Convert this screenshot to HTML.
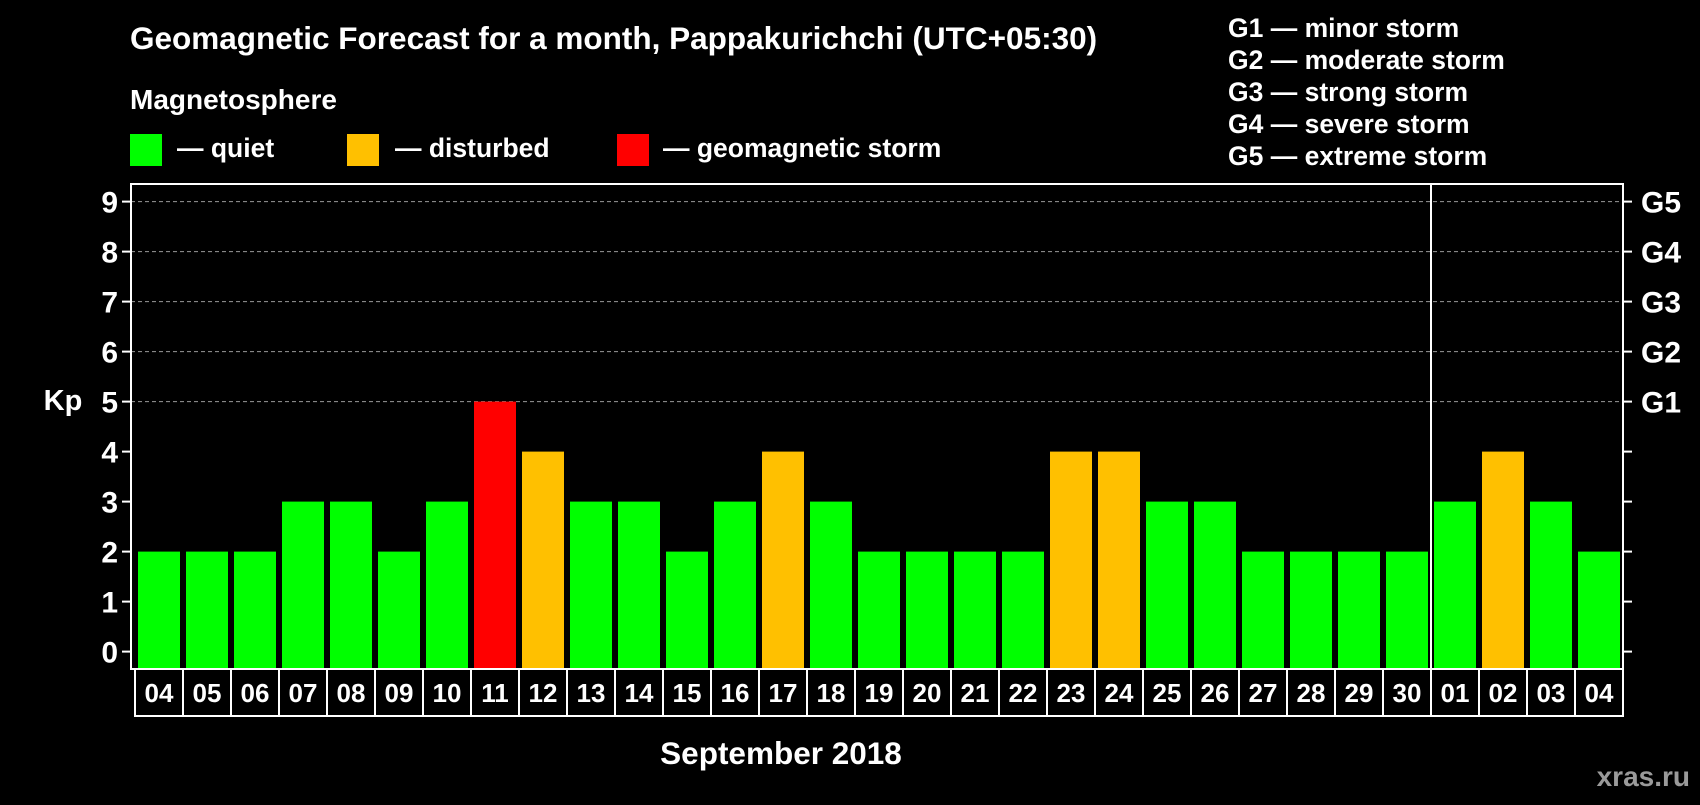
<!DOCTYPE html>
<html><head><meta charset="utf-8"><style>
html,body{margin:0;padding:0;background:#000;}
svg text{font-family:"Liberation Sans",sans-serif;font-weight:bold;fill:#fff;}
</style></head><body>
<svg id="chart" width="1700" height="800" viewBox="0 0 1700 800" xmlns="http://www.w3.org/2000/svg">
<rect width="1700" height="800" fill="#000"/>
<text x="130" y="49" font-size="31.5">Geomagnetic Forecast for a month, Pappakurichchi (UTC+05:30)</text>
<text x="130" y="109" font-size="28">Magnetosphere</text>
<rect x="130" y="134" width="32" height="32" fill="#00ff00"/>
<text x="177" y="157" font-size="26.5">— quiet</text>
<rect x="347" y="134" width="32" height="32" fill="#ffc000"/>
<text x="395" y="157" font-size="26.5">— disturbed</text>
<rect x="617" y="134" width="32" height="32" fill="#ff0000"/>
<text x="663" y="157" font-size="26.5">— geomagnetic storm</text>
<g font-size="26.5">
<text x="1228" y="37">G1 — minor storm</text>
<text x="1228" y="69">G2 — moderate storm</text>
<text x="1228" y="101">G3 — strong storm</text>
<text x="1228" y="133">G4 — severe storm</text>
<text x="1228" y="165">G5 — extreme storm</text>
</g>
<text x="63" y="410" font-size="29" text-anchor="middle">Kp</text>
<text x="781" y="764" font-size="31.5" text-anchor="middle">September 2018</text>
<text x="1690" y="786" font-size="28" text-anchor="end" style="fill:#9a9a9a">xras.ru</text>
<g id="grid"></g><g id="bars"></g><g id="axes"></g>
</svg>
<script>
const days = ["04","05","06","07","08","09","10","11","12","13","14","15","16","17","18","19","20","21","22","23","24","25","26","27","28","29","30","01","02","03","04"];
const kpValues = [2,2,2,3,3,2,3,5,4,3,3,2,3,4,3,2,2,2,2,4,4,3,3,2,2,2,2,3,4,3,2];
const yTicks = [0,1,2,3,4,5,6,7,8,9];
const gLabels = ["","","","","","G1","G2","G3","G4","G5"];
const monthBreakIndex = 27;
const NS = "http://www.w3.org/2000/svg";
const L = 131, R = 1623, T = 184, B = 669;
const x0 = 138, step = 48, bw = 42;
function yScale(v){ return 651.6 - v * 50; }
function xScale(i){ return x0 + i * step; }
function mk(tag, attrs, parent){ const e = document.createElementNS(NS, tag); for (const k in attrs) e.setAttribute(k, attrs[k]); parent.appendChild(e); return e; }
const grid = document.getElementById('grid'), bars = document.getElementById('bars'), axes = document.getElementById('axes');
yTicks.forEach((t) => {
  const y = yScale(t);
  if (t >= 5) {
    const gl = mk('line', {x1: L, x2: R, y1: y, y2: y, stroke: '#999', 'stroke-width': 1, 'stroke-dasharray': '4,3'}, grid);
    
    
  }
  const tl = mk('line', {x1: L - 9, x2: L, y1: y, y2: y, stroke: '#fff', 'stroke-width': 2}, axes);
  
  
  const tr = mk('line', {x1: R, x2: R + 9, y1: y, y2: y, stroke: '#fff', 'stroke-width': 2}, axes);
  
  
  const lt = mk('text', {x: 118, y: y + 11, 'font-size': 30, 'text-anchor': 'end'}, axes);
  lt.textContent = t;
  
  
  if (gLabels[t]) {
    const gt = mk('text', {x: 1641, y: y + 11, 'font-size': 30}, axes);
    gt.textContent = gLabels[t];
    
    
  }
});
kpValues.forEach((v, i) => {
  const color = v >= 5 ? '#ff0000' : (v >= 4 ? '#ffc000' : '#00ff00');
  const y = yScale(v);
  const b = mk('rect', {x: xScale(i), y: y, width: bw, height: B - y - 1, fill: color}, bars);
  
  
  const cx = xScale(i) - 3;
  const c = mk('rect', {x: cx, y: B, width: step, height: 47, fill: 'none', stroke: '#fff', 'stroke-width': 2}, axes);
  
  
  const t = mk('text', {x: cx + step / 2, y: 702, 'font-size': 26, 'text-anchor': 'middle'}, axes);
  t.textContent = days[i];
  
  
});
const fr = mk('rect', {x: L, y: T, width: R - L, height: B - T, fill: 'none', stroke: '#fff', 'stroke-width': 2}, axes);


const sx = xScale(monthBreakIndex) - 3;
const sep = mk('line', {x1: sx, x2: sx, y1: T, y2: B, stroke: '#fff', 'stroke-width': 2}, axes);


</script>
</body></html>
